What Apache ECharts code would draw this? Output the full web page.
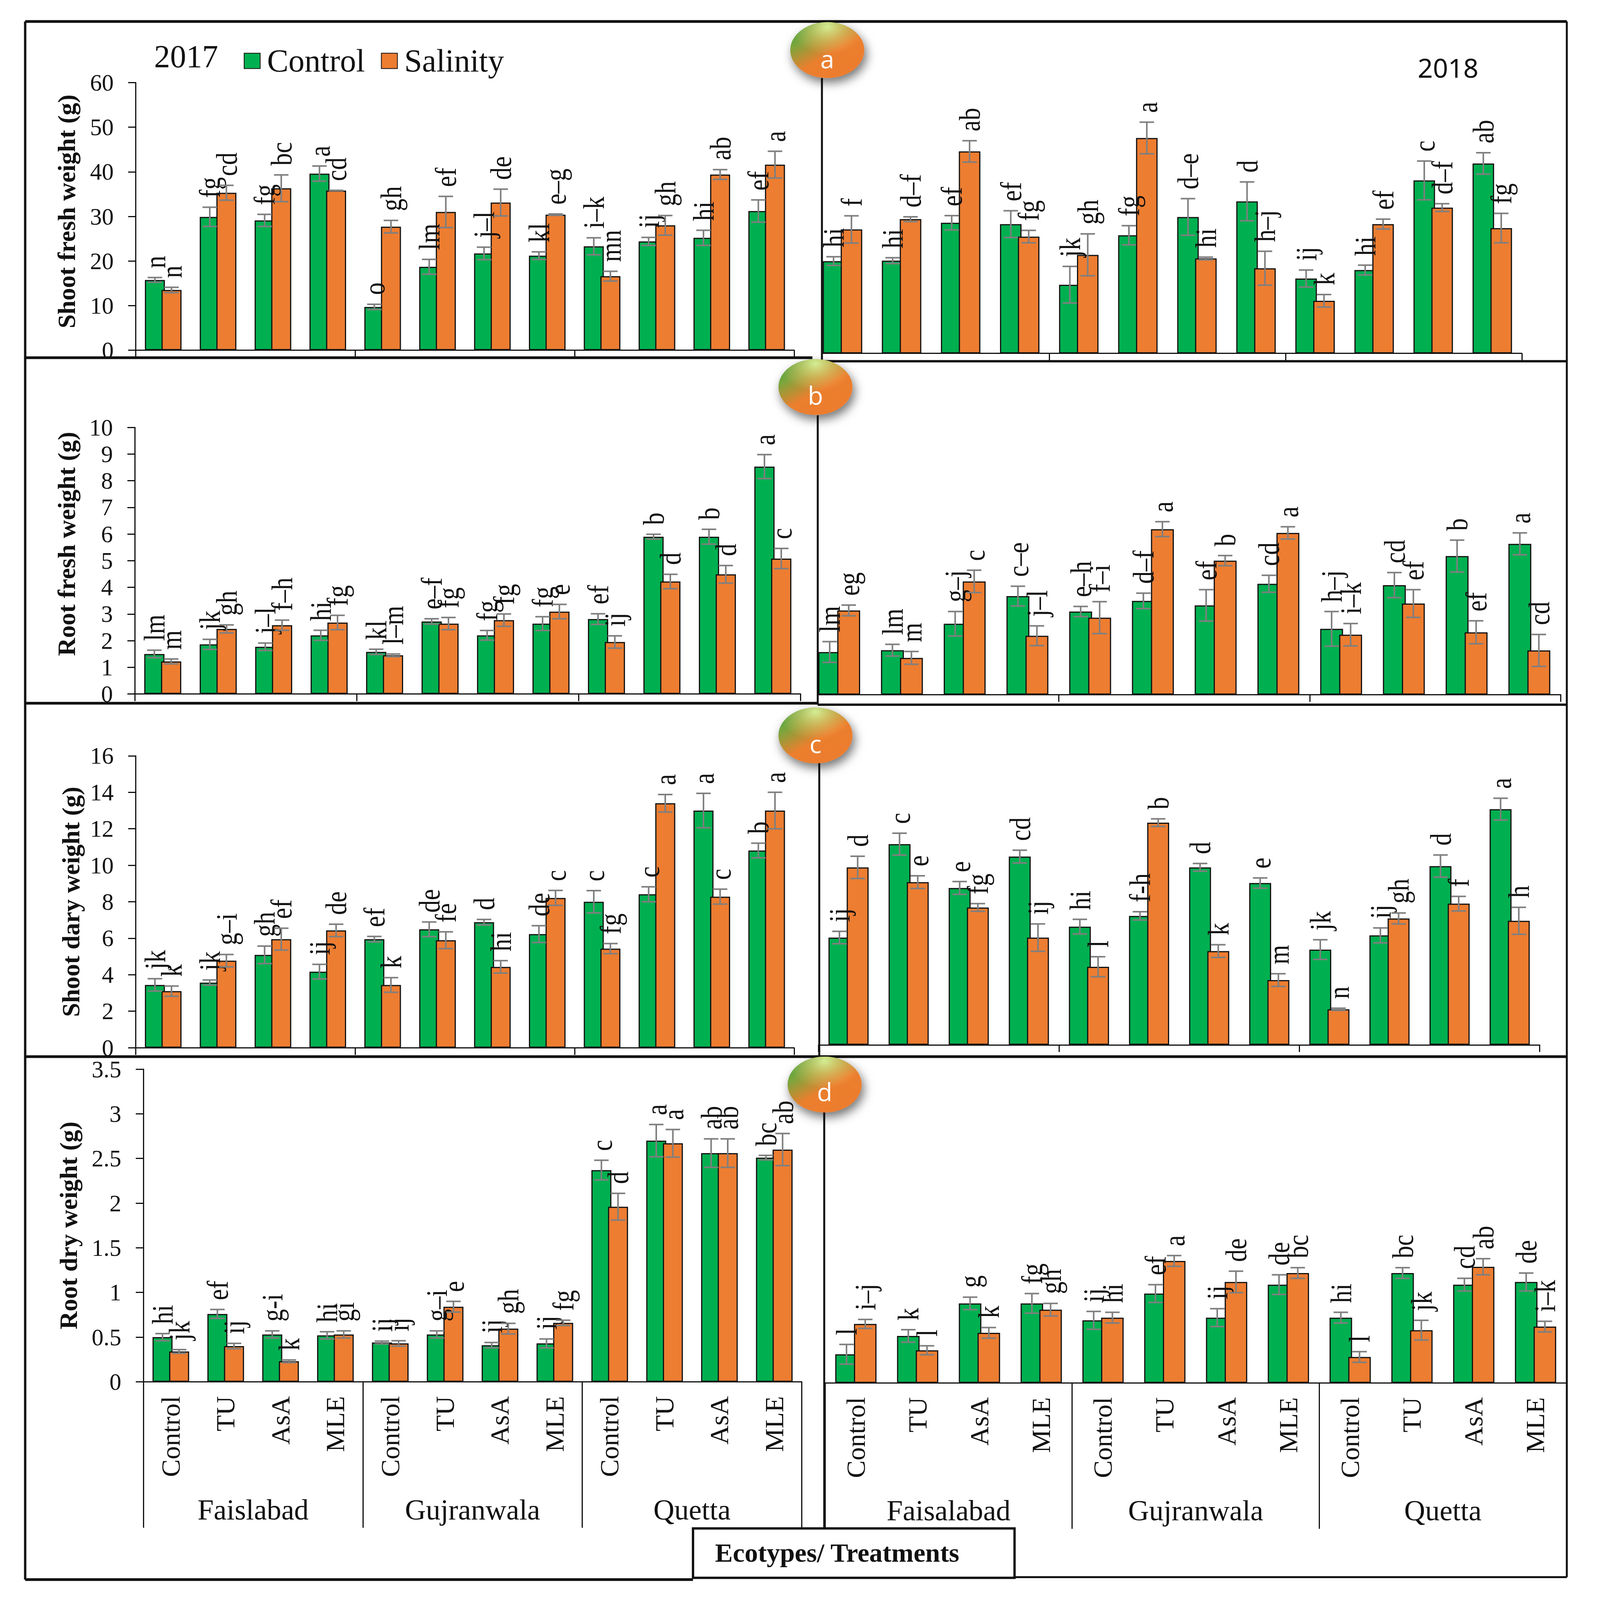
<!DOCTYPE html>
<html><head><meta charset="utf-8">
<style>html,body{margin:0;padding:0;background:#fff;overflow:hidden}#c{width:100vw;height:100vh}</style>
<script src="https://cdn.jsdelivr.net/npm/echarts@6/dist/echarts.min.js"></script>
</head><body><div id="c"></div>
<script>
const treatments = ['Control','TU','AsA','MLE','Control','TU','AsA','MLE','Control','TU','AsA','MLE'];
const ecotypes2017 = ['Faislabad','Gujranwala','Quetta'];
const ecotypes2018 = ['Faisalabad','Gujranwala','Quetta'];

// a: Shoot fresh weight
const sfw17C = [15.75,29.9,29.1,39.6,9.7,18.7,21.7,21.2,23.3,24.4,25.2,31.2];
const sfw17S = [13.5,35.3,36.3,35.8,27.7,31,33.1,30.4,16.6,28,39.4,41.6];
const sfw17CE = [.54,2.15,1.35,1.7,.6,1.67,1.4,.86,1.9,.9,1.7,2.5];
const sfw17SE = [.6,1.67,3,.05,1.4,3.5,3,.15,1.1,2.2,1.1,3];
const sfw17CL = ['n','fg','fg','a','o','lm','j–l','kl','i–k','ij','hi','ef'];
const sfw17SL = ['n','cd','bc','cd','gh','ef','de','e–g','mn','gh','ab','a'];
const sfw18C = [20.7,20.8,29.3,29,15.4,26.5,30.6,34.1,16.8,18.7,38.8,42.6];
const sfw18S = [27.8,30.1,45.3,26.2,22.1,48.3,21.3,19.1,11.8,29,32.7,28.1];
const sfw18CE = [.97,.65,1.6,3,4.1,2.15,4.1,4.35,1.9,1.1,4.35,2.4];
const sfw18SE = [3.05,.54,2.4,1.4,4.7,3.55,.3,3.8,1.4,1.1,.86,3.3];
const sfw18CL = ['hi','hi','ef','ef','jk','fg','d–e','d','ij','hi','c','ab'];
const sfw18SL = ['f','d–f','ab','fg','gh','a','hi','h–j','k','ef','d–f','fg'];

// b: Root fresh weight
const rfw17C = [1.5,1.86,1.77,2.2,1.58,2.72,2.2,2.64,2.81,5.9,5.9,8.53];
const rfw17S = [1.22,2.44,2.58,2.68,1.45,2.64,2.77,3.09,1.95,4.22,4.49,5.08];
const rfw17CE = [.14,.19,.14,.19,.1,.1,.18,.26,.2,.09,.28,.45];
const rfw17SE = [.09,.15,.19,.27,.05,.23,.23,.27,.23,.27,.33,.38];
const rfw17CL = ['lm','jk','j–l','hi','kl','e–f','fg','fg','ef','b','b','a'];
const rfw17SL = ['m','gh','f–h','fg','l–m','fg','fg','e','ij','d','d','c'];
const rfw18C = [1.6,1.67,2.66,3.7,3.12,3.52,3.35,4.16,2.47,4.11,5.2,5.66];
const rfw18S = [3.16,1.38,4.25,2.21,2.89,6.21,5.03,6.07,2.25,3.42,2.34,1.66];
const rfw18CE = [.39,.22,.46,.37,.19,.29,.59,.32,.65,.47,.6,.41];
const rfw18SE = [.2,.24,.42,.37,.6,.28,.19,.23,.42,.52,.43,.6];
const rfw18CL = ['lm','lm','g–j','c–e','e–h','d–f','ef','cd','h–j','cd','b','a'];
const rfw18SL = ['eg','m','c','j–l','f–i','a','b','a','i–k','ef','ef','cd'];

// c: Shoot dry weight
const sdw17C = [3.44,3.57,5.09,4.17,5.95,6.49,6.88,6.23,8,8.41,13,10.81];
const sdw17S = [3.1,4.77,5.95,6.43,3.44,5.89,4.43,8.21,5.43,13.4,8.28,13];
const sdw17CE = [.34,.14,.48,.4,.15,.4,.15,.46,.61,.41,.94,.4];
const sdw17SE = [.28,.34,.6,.34,.4,.46,.34,.41,.28,.48,.41,1];
const sdw17CL = ['jk','jk','gh','ij','ef','de','d','de','c','c','a','b'];
const sdw17SL = ['k','g–i','ef','de','k','fe','hi','c','fg','a','c','a'];
const sdw18C = [5.88,11,8.6,10.32,6.48,7.07,9.73,8.87,5.22,6,9.8,12.92];
const sdw18S = [9.73,8.92,7.53,5.88,4.28,12.18,5.14,3.55,1.95,6.93,7.74,6.8];
const sdw18CE = [.34,.6,.35,.35,.4,.23,.21,.28,.54,.41,.61,.6];
const sdw18SE = [.61,.35,.21,.75,.55,.21,.35,.35,.06,.3,.4,.74];
const sdw18CL = ['ij','c','e','cd','hi','f-h','d','e','jk','ij','d','a'];
const sdw18SL = ['d','e','fg','ij','l','b','k','m','n','gh','f','h'];

// d: Root dry weight
const rdw17C = [.5,.76,.53,.52,.44,.53,.41,.43,2.37,2.7,2.56,2.51];
const rdw17S = [.34,.4,.23,.53,.43,.84,.595,.66,1.96,2.67,2.56,2.6];
const rdw17CE = [.04,.05,.04,.04,.015,.04,.03,.05,.11,.18,.16,.025];
const rdw17SE = [.02,.03,.015,.04,.03,.06,.06,.03,.15,.155,.16,.18];
const rdw17CL = ['hi','ef','g-i','hi','ij','g–i','ij','ij','c','a','ab','bc'];
const rdw17SL = ['jk','ij','k','gi','ij','e','gh','fg','d','a','ab','ab'];
const rdw18C = [.32,.525,.89,.89,.7,1,.73,1.1,.73,1.23,1.1,1.13];
const rdw18S = [.66,.365,.56,.82,.73,1.365,1.13,1.23,.29,.59,1.3,.63];
const rdw18CE = [.11,.07,.07,.11,.1,.1,.1,.11,.06,.06,.07,.1];
const rdw18SE = [.05,.05,.06,.07,.06,.06,.12,.06,.06,.11,.09,.06];
const rdw18CL = ['l','k','g','fg','ij','ef','ij','de','hi','bc','cd','de'];
const rdw18SL = ['i–j','l','k','gh','hi','a','de','bc','l','jk','ab','i–k'];

const GREEN='#00B050', ORANGE='#ED7D31', SERIF='"Liberation Serif"';
const BARFRAC=0.365, OVERLAP=0.17;

// The window may be smaller than the reference: layout numbers below are in reference pixels and are scaled to fit.
const REF_W=4195, REF_H=4473;
const W=window.innerWidth, H=window.innerHeight;
const sx=W/REF_W, sy=H/REF_H;
const X=v=>v*sx, Y=v=>v*sy;

const panels = [
 {left:356,top:231,w:1726,h:748,max:60,iv:10,name:'Shoot fresh weight (g)',nameX:149,namePad:28,d:[sfw17C,sfw17S,sfw17CE,sfw17SE,sfw17CL,sfw17SL],eco:ecotypes2017},
 {left:2131.5,top:240,w:1858.5,h:748,max:60,iv:10,d:[sfw18C,sfw18S,sfw18CE,sfw18SE,sfw18CL,sfw18SL],eco:ecotypes2018,mask:2155},
 {left:354,top:1195,w:1745,h:745,max:10,iv:1,name:'Root fresh weight (g)',nameX:147,namePad:94,d:[rfw17C,rfw17S,rfw17CE,rfw17SE,rfw17CL,rfw17SL],eco:ecotypes2017},
 {left:2118,top:1197,w:1974,h:745,max:10,iv:1,d:[rfw18C,rfw18S,rfw18CE,rfw18SE,rfw18CL,rfw18SL],eco:ecotypes2018,mask:2144},
 {left:356,top:2113,w:1726,h:816,max:16,iv:2,name:'Shoot dary weight (g)',nameX:137,namePad:0,d:[sdw17C,sdw17S,sdw17CE,sdw17SE,sdw17CL,sdw17SL],eco:ecotypes2017},
 {left:2146,top:2105,w:1891,h:816,max:16,iv:2,d:[sdw18C,sdw18S,sdw18CE,sdw18SE,sdw18CL,sdw18SL],eco:ecotypes2018},
 {left:376,top:2989,w:1726,h:874,max:3.5,iv:.5,name:'Root dry weight (g)',nameX:163,namePad:0,d:[rdw17C,rdw17S,rdw17CE,rdw17SE,rdw17CL,rdw17SL],eco:ecotypes2017,bottom:true},
 {left:2163,top:2992,w:1944,h:874,max:3.5,iv:.5,d:[rdw18C,rdw18S,rdw18CE,rdw18SE,rdw18CL,rdw18SL],eco:ecotypes2018,bottom:true}
];

function errSeries(pi, sign, vals, errs, letters){
  return {
    type:'custom', name:sign<0?'Control error':'Salinity error', xAxisIndex:pi*2, yAxisIndex:pi, z:5, clip:false, silent:true,
    data: vals.map((v,i)=>[i,v,errs[i]]),
    encode:{x:0,y:1},
    renderItem:(params,api)=>{
      const i=api.value(0), v=api.value(1), e=api.value(2);
      const band=api.size([1,0])[0];
      const c=api.coord([i,v]);
      const x=c[0]+sign*band*BARFRAC*(1-OVERLAP)/2;
      const yt=api.coord([i,v+e])[1], yb=api.coord([i,v-e])[1];
      const st={stroke:'#7f7f7f',lineWidth:4,fill:null};
      const cap=X(19);
      return {type:'group',children:[
        {type:'line',shape:{x1:x,y1:yt,x2:x,y2:yb},style:st},
        {type:'line',shape:{x1:x-cap,y1:yt,x2:x+cap,y2:yt},style:st},
        {type:'line',shape:{x1:x-cap,y1:yb,x2:x+cap,y2:yb},style:st},
        {type:'text',x:x,y:yt-Y(26),rotation:Math.PI/2,scaleX:1,scaleY:1.2,
         style:{text:letters[params.dataIndex],x:0,y:0,fill:'#111',font:Math.round(70*sy)+'px '+SERIF,align:'left',verticalAlign:'middle'}}
      ]};
    }
  };
}

const grid=[],xAxis=[],yAxis=[],series=[];
panels.forEach((p,pi)=>{
  grid.push({left:X(p.left),top:Y(p.top),width:X(p.w),height:Y(p.h),containLabel:false});
  xAxis.push({type:'category',gridIndex:pi,data:treatments,position:'bottom',
    axisLine:{onZero:false,lineStyle:{color:'#111',width:3}},axisTick:{show:false},
    axisLabel:{show:!!p.bottom,interval:0,rotate:90,margin:Y(40),color:'#111',fontFamily:SERIF,fontSize:74*sy}});
  xAxis.push({type:'category',gridIndex:pi,data:p.eco,position:'bottom',
    axisLine:{onZero:false,show:false},
    axisTick:{show:true,length:Y(p.bottom?408:20),lineStyle:{color:'#111',width:3}},
    axisLabel:{show:!!p.bottom,interval:0,margin:Y(317),color:'#111',fontFamily:SERIF,fontSize:76*sx}});
  yAxis.push({type:'value',gridIndex:pi,min:0,max:p.max,interval:p.iv,show:!!p.name,splitLine:{show:false},
    name:p.name,nameLocation:'middle',nameRotate:90,nameGap:X(p.nameX),
    nameTextStyle:{color:'#111',fontFamily:SERIF,fontWeight:'bold',fontSize:70*sy,padding:[0,0,0,Y(p.namePad||0)]},
    axisLine:{show:true,onZero:false,lineStyle:{color:'#111',width:3}},
    axisTick:{show:true,length:X(20),lineStyle:{color:'#111',width:3}},
    axisLabel:{margin:X(58),color:'#111',fontFamily:SERIF,fontSize:62*sx}});
  const [c,s,ce,se,cl,sl]=p.d;
  const bar=(name,vals,col)=>({type:'bar',name,xAxisIndex:pi*2,yAxisIndex:pi,data:vals,barWidth:(BARFRAC*100)+'%',barGap:(-OVERLAP*100)+'%',z:2,
    itemStyle:{color:col,borderColor:'#111',borderWidth:3}});
  series.push(bar('Control',c,GREEN),bar('Salinity',s,ORANGE),errSeries(pi,-1,c,ce,cl),errSeries(pi,1,s,se,sl));
});

// frame and panel rules: [x1,y1,x2,y2,width]
const rules=[
 [66,60,4108,60,7],[66,60,66,4416,6],[4108,60,4108,4409,5],
 [66,1000,2130,1000,7],[2130,1010,4108,1010,6],
 [66,1966,2144,1966,7],[2144,1970,4108,1970,6],
 [66,2954,4108,2954,7],
 [66,4416,1817,4416,7],[2660,4409,4108,4409,5],
 [2155,218,2155,1010,5],[2144,1161,2144,1970,5],[2148,2131,2148,2954,5],[2161,3110,2161,4273,5]
];
const badges=[['a',2169,140,164],['b',2138,1082,1105],['c',2138,2056,2079],['d',2162,3032,3052]];

const graphic=[];
panels.forEach(p=>{ if(p.mask) graphic.push({type:'rect',z:40,shape:{x:X(p.left-3),y:Y(p.top+p.h-3),width:X(p.mask-p.left+1),height:Y(32)},style:{fill:'#fff'}}); });
rules.forEach(r=>graphic.push({type:'line',z:50,shape:{x1:X(r[0]),y1:Y(r[1]),x2:X(r[2]),y2:Y(r[3])},style:{stroke:'#111',lineWidth:r[4]}}));
graphic.push({type:'text',z:50,x:X(404),y:Y(158),style:{text:'2017',fill:'#111',font:Math.round(84*sx)+'px '+SERIF,verticalAlign:'middle'}});
graphic.push({type:'text',z:50,x:X(3717),y:Y(188),style:{text:'2018',fill:'#111',font:Math.round(70*sx)+'px "Noto Sans"',verticalAlign:'middle'}});
graphic.push({type:'rect',z:60,shape:{x:X(1817),y:Y(4273),width:X(843),height:Y(138)},style:{fill:'#fff',stroke:'#111',lineWidth:6}});
graphic.push({type:'text',z:61,x:X(2195),y:Y(4341),style:{text:'Ecotypes/ Treatments',fill:'#111',font:'bold '+Math.round(70*sx)+'px '+SERIF,align:'center',verticalAlign:'middle'}});
badges.forEach(b=>{
  const shape={cx:X(b[1]),cy:Y(b[2]),rx:X(97),ry:Y(78)};
  graphic.push({type:'ellipse',z:70,shape,style:{
    shadowBlur:26,shadowColor:'rgba(0,0,0,.55)',shadowOffsetX:6,shadowOffsetY:12,
    fill:{type:'linear',x:0,y:0,x2:.75,y2:1,colorStops:[{offset:0,color:'#2fa84a'},{offset:.3,color:'#7da53c'},{offset:.62,color:'#ea7f2e'},{offset:1,color:'#ee7c2e'}]}}});
  graphic.push({type:'ellipse',z:71,shape,style:{
    fill:{type:'radial',x:.5,y:.08,r:.5,colorStops:[{offset:0,color:'rgba(235,255,170,.8)'},{offset:.6,color:'rgba(250,210,120,.35)'},{offset:1,color:'rgba(255,200,120,0)'}]}}});
  graphic.push({type:'text',z:72,x:X(b[1]),y:Y(b[3]),style:{text:b[0],fill:'#fff',font:Math.round(66*sx)+'px "Open Sans"',align:'center',verticalAlign:'middle'}});
});

const chart=echarts.init(document.getElementById('c'),null,{renderer:'svg',width:W,height:H});
chart.setOption({
  animation:false,backgroundColor:'#fff',
  legend:{data:['Control','Salinity'],icon:'rect',left:X(634),top:Y(120),itemWidth:X(42),itemHeight:Y(43),itemGap:X(42),orient:'horizontal',selectedMode:false,
    textStyle:{color:'#111',fontFamily:SERIF,fontSize:84*sx,padding:[0,0,0,X(13)]}},
  grid,xAxis,yAxis,series,graphic:{elements:graphic}
});
</script></body></html>
